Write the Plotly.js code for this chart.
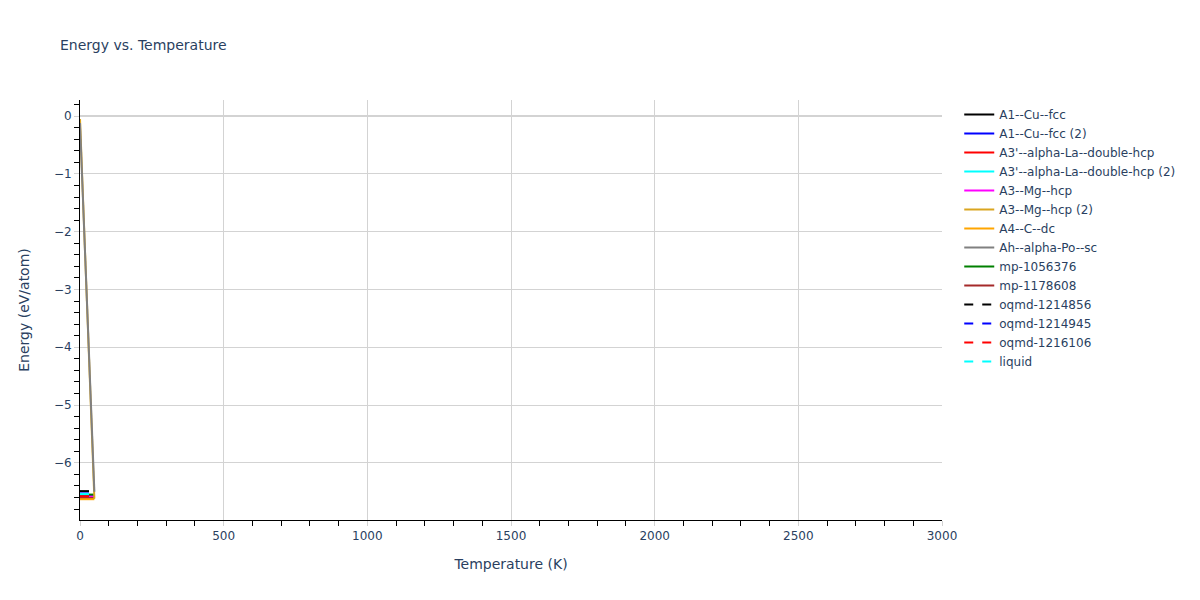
<!DOCTYPE html>
<html>
<head>
<meta charset="utf-8">
<script src="https://cdn.plot.ly/plotly-3.0.1.min.js"></script>
<style>body{margin:0;}#chart{width:1200px;height:600px;}</style>
</head>
<body>
<div id="chart"></div>
<script>
// phase names, colours and dash styles (legend order)
const names = [
  "A1--Cu--fcc", "A1--Cu--fcc (2)", "A3'--alpha-La--double-hcp", "A3'--alpha-La--double-hcp (2)",
  "A3--Mg--hcp", "A3--Mg--hcp (2)", "A4--C--dc", "Ah--alpha-Po--sc",
  "mp-1056376", "mp-1178608", "oqmd-1214856", "oqmd-1214945", "oqmd-1216106", "liquid"
];
const colors = [
  "black", "blue", "red", "cyan", "magenta", "goldenrod", "orange", "grey",
  "green", "brown", "black", "blue", "red", "cyan"
];
const dashes = [
  "solid", "solid", "solid", "solid", "solid", "solid", "solid", "solid",
  "solid", "solid", "dash", "dash", "dash", "dash"
];

// temperatures (K) and energies (eV/atom)
const temps = [0, 50];
const energies = [
  [-6.56, -6.56],
  [-6.57, -6.57],
  [-6.60, -6.60],
  [-6.59, -6.59],
  [-6.58, -6.58],
  [-0.05, -6.62],
  [-6.63, -6.63],
  [-0.12, -6.50],
  [-6.55, -6.55],
  [-6.61, -6.61],
  [-6.49, -6.49],
  [-6.53, -6.53],
  [-6.58, -6.58],
  [-6.54, -6.54]
];

const traces = names.map((n, i) => ({
  x: temps,
  y: energies[i],
  name: n,
  type: 'scatter',
  mode: 'lines',
  legendrank: i + 1,
  line: { color: colors[i], width: 2, dash: dashes[i] }
}));

// draw the steep ones last so they sit on top
const order = [0, 1, 2, 3, 4, 8, 9, 10, 11, 12, 13, 6, 5, 7];
const drawn = order.map(i => traces[i]);

Plotly.newPlot('chart', drawn, {
  width: 1200,
  height: 600,
  font: { family: '"DejaVu Sans", Verdana, sans-serif', color: '#2a3f5f', size: 12 },
  title: { text: 'Energy vs. Temperature', x: 0.05, font: { size: 14 } },
  margin: { l: 80, r: 258, t: 100, b: 80, autoexpand: false },
  plot_bgcolor: 'white',
  paper_bgcolor: 'white',
  xaxis: {
    title: { text: 'Temperature (K)', font: { size: 14 }, standoff: 16 },
    automargin: true,
    range: [0, 3000],
    gridcolor: 'lightgrey',
    showline: true,
    linecolor: 'black',
    zeroline: false,
    ticks: 'outside',
    ticklen: 5,
    tickcolor: 'lightgrey',
    minor: { ticks: 'outside', dtick: 100, ticklen: 5, tickcolor: 'black' }
  },
  yaxis: {
    title: { text: 'Energy (eV/atom)', font: { size: 14 }, standoff: 20 },
    automargin: true,
    range: [-6.99, 0.28],
    gridcolor: 'lightgrey',
    showline: true,
    linecolor: 'black',
    zeroline: true,
    zerolinecolor: 'lightgrey',
    zerolinewidth: 2,
    ticks: 'outside',
    ticklen: 5,
    tickcolor: 'lightgrey',
    minor: { ticks: 'outside', dtick: 0.2, ticklen: 5, tickcolor: 'black' }
  },
  legend: { x: 1.02, y: 1 },
  showlegend: true
}, { displayModeBar: false });
</script>
</body>
</html>
